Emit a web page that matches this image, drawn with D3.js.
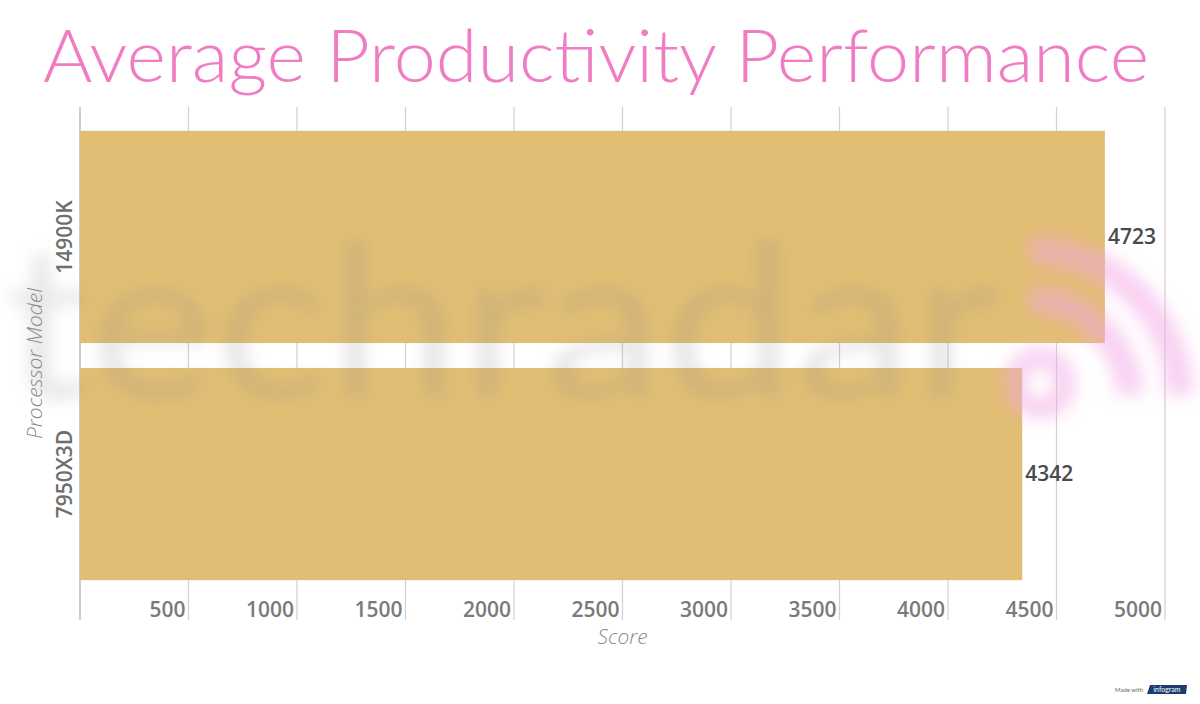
<!DOCTYPE html>
<html><head><meta charset="utf-8">
<script src="https://cdn.jsdelivr.net/npm/d3@7"></script>
<style>body{margin:0;background:#fff}svg{display:block}</style>
</head><body>
<svg id="chart" width="1200" height="704"></svg>
<script>
const categories = ["14900K", "7950X3D"];
const values = [4723, 4342];
const tickValues = [500, 1000, 1500, 2000, 2500, 3000, 3500, 4000, 4500, 5000];
const title = "Average Productivity Performance";
const xTitle = "Score";
const yTitle = "Processor Model";

const svg = d3.select("#chart");
const plot = {left: 80, right: 1165, top: 107, bottom: 620};
const barTop = 119, barBottom = 592;

const x = d3.scaleLinear().domain([0, 5000]).range([plot.left, plot.right]);
const y = d3.scaleBand().domain(categories).range([barTop, barBottom]).paddingInner(0.105).paddingOuter(0.05);

const defs = svg.append("defs");
defs.append("filter").attr("id", "blur").attr("x", "-20%").attr("y", "-30%").attr("width", "140%").attr("height", "160%")
  .append("feGaussianBlur").attr("stdDeviation", 8);

// gridlines
const gridVals = [0].concat(tickValues);
svg.append("g").selectAll("line").data(gridVals).join("line")
  .attr("x1", d => x(d)).attr("x2", d => x(d))
  .attr("y1", plot.top).attr("y2", plot.bottom)
  .attr("stroke", d => d === 0 ? "#aaa" : "#d0d0d0").attr("stroke-width", 1.2);

// bars
svg.append("g").selectAll("rect").data(values).join("rect")
  .attr("x", x(0)).attr("y", (d, i) => y(categories[i]))
  .attr("width", d => x(d) - x(0)).attr("height", y.bandwidth())
  .attr("fill", "#e2be74");

// watermark
const wm = svg.append("g").attr("filter", "url(#blur)").attr("pointer-events", "none");
wm.append("text").attr("x", 5).attr("y", 398).attr("font-family", "Lato, sans-serif").attr("font-weight", 400)
  .attr("font-size", 215).attr("fill", "#8a8a8a").attr("opacity", 0.2).attr("textLength", 995).attr("lengthAdjust", "spacingAndGlyphs")
  .text("techradar");
const arcs = wm.append("g").attr("fill", "none").attr("stroke", "#f3a6e6").attr("opacity", 0.5).attr("stroke-width", 28);
arcs.append("circle").attr("cx", 1040).attr("cy", 383).attr("r", 25).attr("stroke-width", 22);
arcs.append("path").attr("d", "M1030,300 A100,100 0 0 1 1130,395");
arcs.append("path").attr("d", "M1030,250 A150,150 0 0 1 1180,395");

// tick labels
svg.append("g").selectAll("text").data(tickValues).join("text")
  .attr("x", d => x(d) - 3).attr("y", 617).attr("text-anchor", "end")
  .attr("font-family", "'Open Sans', sans-serif").attr("font-weight", 600)
  .attr("font-size", 21).attr("fill", "#7a7a7a").text(d => d);

// category labels
svg.append("g").selectAll("text").data(categories).join("text")
  .attr("transform", d => `translate(${x(0) - 8},${y(d) + y.bandwidth() / 2}) rotate(-90)`)
  .attr("text-anchor", "middle")
  .attr("font-family", "'Open Sans', sans-serif").attr("font-weight", 600)
  .attr("font-size", 21).attr("fill", "#6e6e6e").text(d => d);

// value labels
svg.append("g").selectAll("text").data(values).join("text")
  .attr("x", d => x(d) + 3).attr("y", (d, i) => y(categories[i]) + y.bandwidth() / 2 + 7)
  .attr("font-family", "'Open Sans', sans-serif").attr("font-weight", 600)
  .attr("font-size", 21).attr("fill", "#4a4a4a").text(d => d);

// axis titles
svg.append("text").attr("x", (plot.left + plot.right) / 2).attr("y", 644).attr("text-anchor", "middle")
  .attr("font-family", "'Open Sans', sans-serif").attr("font-style", "italic").attr("font-weight", 300)
  .attr("font-size", 21).attr("fill", "#8a8a8a").text(xTitle);
svg.append("text").attr("transform", `translate(42,${(barTop + barBottom) / 2 + 8}) rotate(-90)`).attr("text-anchor", "middle")
  .attr("font-family", "'Open Sans', sans-serif").attr("font-style", "italic").attr("font-weight", 300)
  .attr("font-size", 21).attr("fill", "#8a8a8a").text(yTitle);

// title
svg.append("text").attr("x", 596).attr("y", 82).attr("text-anchor", "middle")
  .attr("font-family", "Lato, sans-serif").attr("font-weight", 300)
  .attr("font-size", 72).attr("fill", "#f07cc4")
  .attr("textLength", 1106).attr("lengthAdjust", "spacingAndGlyphs").text(title);

// infogram badge
const badge = svg.append("g");
badge.append("text").attr("x", 1143).attr("y", 692).attr("text-anchor", "end")
  .attr("font-family", "Lato, sans-serif").attr("font-size", 6).attr("fill", "#666").text("Made with");
badge.append("path").attr("d", "M1150,685 L1187,685 L1186,694 L1147,694 Z").attr("fill", "#1d3c6e");
badge.append("text").attr("x", 1167).attr("y", 692).attr("text-anchor", "middle")
  .attr("font-family", "Lato, sans-serif").attr("font-size", 7).attr("fill", "#fff").text("infogram");
</script>
</body></html>
